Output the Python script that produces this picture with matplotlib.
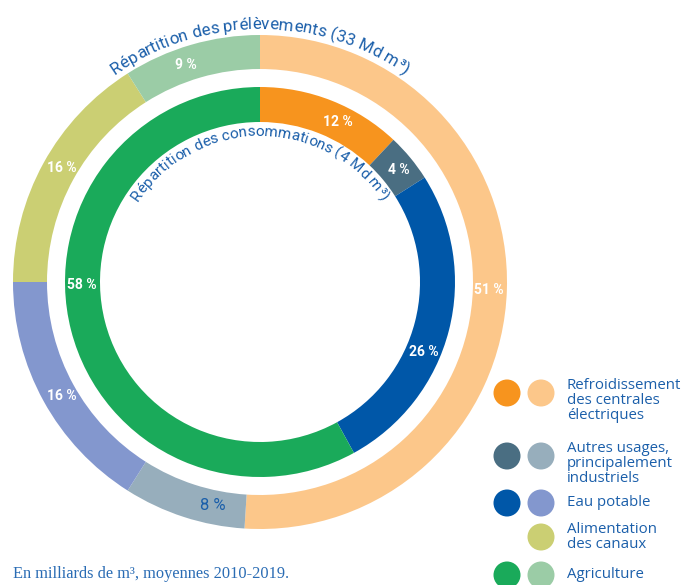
import matplotlib
matplotlib.use("Agg")
import matplotlib.pyplot as plt
import numpy as np
from matplotlib.patches import Circle
from matplotlib.font_manager import FontProperties
from matplotlib.textpath import TextToPath

# data
outer_names = ["Refroidissement des centrales électriques",
               "Autres usages, principalement industriels",
               "Eau potable", "Alimentation des canaux", "Agriculture"]
outer_values = [51, 8, 16, 16, 9]
inner_names = ["Refroidissement des centrales électriques",
               "Autres usages, principalement industriels",
               "Eau potable", "Agriculture"]
inner_values = [12, 4, 26, 58]

outer_title = "Répartition des prélèvements (33 Md m³)"
inner_title = "Répartition des consommations (4 Md m³)"
footnote = "En milliards de m³, moyennes 2010-2019."

legend_labels = ["Refroidissement\ndes centrales\nélectriques",
                 "Autres usages,\nprincipalement\nindustriels",
                 "Eau potable",
                 "Alimentation\ndes canaux",
                 "Agriculture"]

# styles
outer_colors = ["#FCC78A", "#97AEBC", "#8397CE", "#CBCF73", "#9BCCA6"]
inner_colors = ["#F7941E", "#4A6E82", "#0057A8", "#1AAA5A"]
legend_dark = ["#F7941E", "#4A6E82", "#0057A8", None, "#1AAA5A"]
legend_light = outer_colors
blue_txt = "#1B5FAA"

# label angles (deg clockwise from top) – layout only
outer_lab_ang = [92, 192, 240, 300, 341]
inner_lab_ang = [26, 51, 113, 269]

W, H = 700, 585
fig = plt.figure(figsize=(W / 100, H / 100), dpi=100)
ax = fig.add_axes([0, 0, 1, 1])

cx, cy = 260, H - 282
R_out, w_out = 247, 34
R_in, w_in = 195, 35

ax.pie(outer_values, colors=outer_colors, radius=R_out, center=(cx, cy),
       startangle=90, counterclock=False,
       wedgeprops=dict(width=w_out, linewidth=0))
ax.pie(inner_values, colors=inner_colors, radius=R_in, center=(cx, cy),
       startangle=90, counterclock=False,
       wedgeprops=dict(width=w_in, linewidth=0))

lab_font = ["Liberation Sans Narrow", "Roboto"]


def polar(r, ang):
    a = np.deg2rad(90 - ang)
    return cx + r * np.cos(a), cy + r * np.sin(a)


for v, ang in zip(outer_values, outer_lab_ang):
    x, y = polar(R_out - w_out / 2 - 1, ang)
    if v == 8:
        ax.text(x, y, f"{v} %", ha="center", va="center", color=blue_txt,
                fontsize=12, family="Roboto")
    else:
        ax.text(x, y, f"{v} %", ha="center", va="center", color="white",
                fontsize=10, fontweight="bold", family=lab_font)

for v, ang in zip(inner_values, inner_lab_ang):
    x, y = polar(R_in - w_in / 2 + 1, ang)
    ax.text(x, y, f"{v} %", ha="center", va="center", color="white",
            fontsize=10, fontweight="bold", family=lab_font)

# curved titles
ttp = TextToPath()


def arc_text(s, r, size, family="Roboto"):
    fp = FontProperties(family=family, size=size, style="normal", weight="normal")
    px = 100 / 72
    ref = ttp.get_text_width_height_descent("|", fp, ismath=False)[0]
    ends = [(ttp.get_text_width_height_descent(s[:i + 1] + "|", fp, ismath=False)[0] - ref) * px
            for i in range(len(s))]
    total = ends[-1]
    prev = 0
    for ch, e in zip(s, ends):
        mid = (prev + e) / 2
        prev = e
        if ch == " ":
            continue
        theta = 90 + np.rad2deg((total / 2 - mid) / r)
        t = np.deg2rad(theta)
        ax.text(cx + r * np.cos(t), cy + r * np.sin(t), ch, fontproperties=fp,
                color=blue_txt, ha="center", va="baseline",
                rotation=theta - 90, rotation_mode="anchor")


arc_text(outer_title, 253, 12.2)
arc_text(inner_title, 146, 11)

# legend
leg_y = [393, 456, 503, 537, 575]
for i, (lab, y) in enumerate(zip(legend_labels, leg_y)):
    yy = H - y
    if legend_dark[i] is not None:
        ax.add_patch(Circle((507, yy), 13.5, color=legend_dark[i], lw=0))
    ax.add_patch(Circle((541, yy), 13.5, color=legend_light[i], lw=0))
    if "\n" in lab:
        ax.text(567, yy + 15, lab, ha="left", va="top", color=blue_txt,
                fontsize=10.8, family="Open Sans", linespacing=1.02)
    else:
        ax.text(567, yy, lab, ha="left", va="center", color=blue_txt,
                fontsize=10.8, family="Open Sans")

ax.text(13, H - 574, footnote, ha="left", va="center", color="#2A6CB4",
        fontsize=11.8, family="Liberation Serif")

ax.set_xlim(0, W)
ax.set_ylim(0, H)
ax.set_aspect("equal")
ax.axis("off")

fig.savefig("out.png", dpi=100)
